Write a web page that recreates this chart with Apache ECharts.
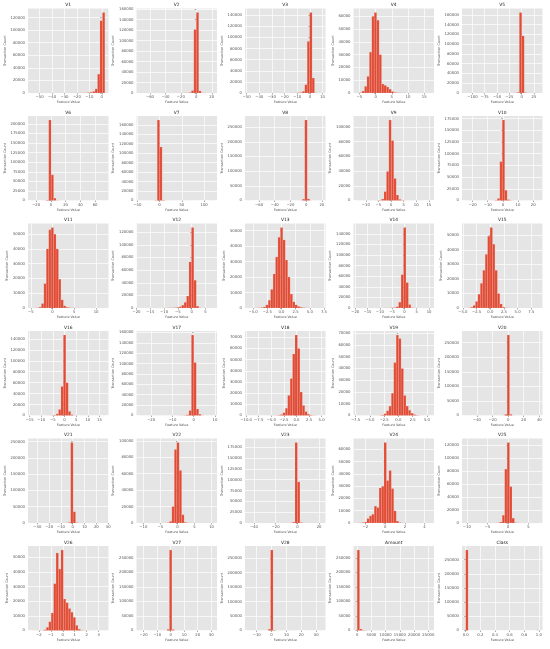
<!DOCTYPE html>
<html><head><meta charset="utf-8">
<script src="https://cdn.jsdelivr.net/npm/echarts@6/dist/echarts.min.js"></script>
<style>html,body{margin:0;padding:0;background:#fff}#c{width:550px;height:649px}</style>
</head><body><div id="c"></div><script>
const featureNames = ['V1','V2','V3','V4','V5','V6','V7','V8','V9','V10','V11','V12','V13','V14','V15','V16','V17','V18','V19','V20','V21','V22','V23','V24','V25','V26','V27','V28','Amount','Class'];
const featureMin = [-56.4075,-72.7157,-48.3256,-5.6832,-113.7433,-26.1605,-43.5572,-73.2167,-13.4341,-24.5883,-4.7975,-18.6837,-5.7919,-19.2143,-4.4989,-14.1299,-25.1628,-9.4987,-7.2135,-54.4977,-34.8304,-10.9331,-44.8077,-2.8366,-10.2954,-2.6047,-22.5657,-15.4301,0,0];
const featureMax = [2.4549,22.0577,9.3826,16.8753,34.8017,73.3016,120.5895,20.0072,15.5950,23.7451,12.0189,7.8484,7.1269,10.5268,8.8777,17.3151,9.2535,5.0411,5.5920,39.4209,27.2028,10.5031,22.5284,4.5845,7.5196,3.5174,31.6122,33.8478,25691.16,1];

const countsV1 = [1,0,1,2,3,4,5,6,8,10,12,14,17,20,25,30,40,50,65,100,150,200,300,600,1200,2500,6500,30000,115000,128000];
const countsV2 = [1,0,1,0,1,1,1,2,2,3,4,5,8,10,15,25,40,80,150,300,800,4500,121000,153500,4000,300,80,30,10,2];
const countsV3 = [1,0,1,1,2,2,3,4,5,6,8,10,12,15,20,25,35,60,100,200,400,900,3000,15000,93000,145000,27000,200,5,1];
const countsV4 = [30,300,1500,5200,13000,32000,60000,63000,57000,30000,7000,6000,4700,3000,1200,400,200,100,60,30,20,10,8,5,3,2,1,1,0,1];
const countsV5 = [1,0,0,0,0,0,0,1,0,1,1,1,2,3,5,8,10,20,40,80,200,1200,165000,117000,800,150,50,15,4,2];
const countsV6 = [1,2,5,10,30,100,1200,210000,67000,6000,400,150,60,30,20,10,8,5,4,3,2,2,1,1,1,0,0,0,0,1];
const countsV7 = [1,1,3,8,20,80,600,170000,113000,800,150,50,20,10,6,4,3,2,1,1,1,0,1,0,0,0,0,0,0,1];
const countsV8 = [1,0,0,0,1,1,1,1,1,2,2,3,4,5,6,8,10,15,20,40,100,300,4500,274000,5500,300,60,20,8,3];
const countsV9 = [1,1,2,4,8,15,30,60,150,500,2000,12000,39500,109500,81500,30000,7500,1500,300,120,50,20,10,6,3,2,1,0,0,1];
const countsV10 = [1,2,3,4,6,10,15,25,40,60,100,200,800,4500,83000,172000,22000,1800,400,120,50,20,10,5,3,2,1,1,0,1];
const countsV11 = [10,40,150,600,3000,16500,40000,53000,54500,50000,40000,19500,5500,1500,500,200,100,60,40,25,15,10,8,5,3,2,1,1,0,1];
const countsV12 = [1,1,2,3,5,8,12,20,30,50,80,120,200,300,500,1000,2000,4500,9000,19000,73000,127500,44000,3000,300,50,10,3,1,1];
const countsV13 = [5,10,20,50,120,300,700,2000,5000,12000,22000,33000,45700,52000,44000,31000,20000,9000,4000,2000,1000,500,200,100,50,20,10,5,2,1];
const countsV14 = [1,2,3,5,8,10,15,20,30,40,50,80,120,200,350,800,2500,11000,63000,152000,48000,6500,500,150,60,30,15,8,3,1];
const countsV15 = [20,100,500,1800,4500,9500,17000,26000,37000,49500,55500,44000,26000,10000,2800,600,150,50,20,10,6,4,3,2,1,1,0,0,0,1];
const countsV16 = [2,3,6,10,20,40,80,150,300,800,3000,11000,53000,147000,60000,7500,1500,300,100,50,25,15,10,6,4,2,1,1,0,1];
const countsV17 = [1,2,3,4,5,8,10,15,20,25,30,40,50,60,80,100,150,250,500,1500,9500,155000,102000,12500,2500,300,60,15,5,1];
const countsV18 = [2,3,5,8,12,15,20,25,30,40,80,150,350,900,2500,6500,18000,33000,55000,72000,60000,21000,9000,3500,1200,400,150,60,20,10];
const countsV19 = [2,3,5,8,12,18,25,40,70,150,500,1500,4000,8000,19000,45000,68500,65500,40000,17000,8000,4500,2000,800,300,100,40,15,5,2];
const countsV20 = [1,0,0,0,1,1,1,2,2,3,5,8,15,30,80,300,4000,276000,4000,300,80,30,15,8,5,3,2,1,1,1];
const countsV21 = [1,0,0,0,1,0,1,1,2,3,5,10,25,60,200,1800,247000,34500,900,200,60,20,8,4,2,1,1,0,0,1];
const countsV22 = [1,0,1,1,2,3,5,8,15,30,80,300,2000,20000,89500,98000,64000,10000,800,200,60,20,8,4,2,1,1,1,0,1];
const countsV23 = [1,0,0,0,0,1,0,1,1,1,2,3,5,8,12,25,60,200,2000,186000,95000,1200,200,60,20,8,4,2,1,1];
const countsV24 = [20,100,300,800,3600,5800,7100,13700,12600,28500,29900,65500,34500,42700,28000,9900,1600,300,100,40,20,10,8,5,3,2,1,1,0,1];
const countsV25 = [1,0,0,1,1,2,3,4,6,10,20,40,100,300,1500,12000,83000,124000,56000,7500,500,120,40,15,8,4,2,1,1,1];
const countsV26 = [10,20,40,80,100,500,2200,6000,12000,32000,53000,42000,55000,21500,19000,15000,12500,9000,3500,900,200,100,50,30,20,12,8,5,3,2];
const countsV27 = [1,0,0,1,1,2,3,5,10,40,200,4000,277000,3300,200,40,10,5,3,2,1,1,0,0,0,0,0,0,0,1];
const countsV28 = [1,0,1,2,4,10,40,200,4500,278000,1800,200,40,10,5,3,2,1,1,1,0,0,0,0,0,0,0,0,0,1];
const countsAmount = [277500,5000,1200,500,250,150,80,40,25,15,10,8,5,4,3,2,2,1,1,1,1,0,0,0,0,0,0,0,0,1];
const countsClass = [284315,0,0,0,0,0,0,0,0,0,0,0,0,0,0,0,0,0,0,0,0,0,0,0,0,0,0,0,0,492];

const binCounts = [countsV1,countsV2,countsV3,countsV4,countsV5,countsV6,countsV7,countsV8,countsV9,countsV10,
  countsV11,countsV12,countsV13,countsV14,countsV15,countsV16,countsV17,countsV18,countsV19,countsV20,
  countsV21,countsV22,countsV23,countsV24,countsV25,countsV26,countsV27,countsV28,countsAmount,countsClass];

const xTickLabels = [
  ['-50','-40','-30','-20','-10','0'],
  ['-60','-40','-20','0','20'],
  ['-50','-40','-30','-20','-10','0','10'],
  ['-5','0','5','10','15'],
  ['-100','-75','-50','-25','0','25'],
  ['-20','0','20','40','60'],
  ['-50','0','50','100'],
  ['-60','-40','-20','0','20'],
  ['-10','-5','0','5','10','15'],
  ['-20','-10','0','10','20'],
  ['-5','0','5','10'],
  ['-20','-15','-10','-5','0','5'],
  ['-5.0','-2.5','0.0','2.5','5.0','7.5'],
  ['-20','-15','-10','-5','0','5','10'],
  ['-5.0','-2.5','0.0','2.5','5.0','7.5'],
  ['-15','-10','-5','0','5','10','15'],
  ['-20','-10','0','10'],
  ['-10.0','-7.5','-5.0','-2.5','0.0','2.5','5.0'],
  ['-7.5','-5.0','-2.5','0.0','2.5','5.0'],
  ['-40','-20','0','20','40'],
  ['-30','-20','-10','0','10','20','30'],
  ['-10','-5','0','5','10'],
  ['-40','-20','0','20'],
  ['-2','0','2','4'],
  ['-10','-5','0','5'],
  ['-2','-1','0','1','2','3'],
  ['-20','-10','0','10','20','30'],
  ['-10','0','10','20','30'],
  ['0','5000','10000','15000','20000','25000'],
  ['0.0','0.2','0.4','0.6','0.8','1.0']
];
const yTickStep = [20000,20000,20000,10000,20000,25000,20000,50000,20000,25000,
  10000,20000,10000,20000,10000,20000,20000,10000,10000,50000,
  50000,20000,25000,10000,20000,10000,50000,50000,50000,50000];

const FONT = 'DejaVu Sans';
const option = {animation:false, backgroundColor:'#ffffff', grid:[], xAxis:[], yAxis:[], series:[], graphic:[]};
const plotW = 80.5, plotH = 84.5;

featureNames.forEach((name, i) => {
  const r = Math.floor(i / 5), c = i % 5;
  const left = 28 + 108.5 * c, top = 8.5 + 107.5 * r;
  const lo = featureMin[i], hi = featureMax[i], span = hi - lo;
  const counts = binCounts[i];
  const w = span / counts.length;
  const yMax = Math.max(...counts) * 1.05;
  const yTicks = [];
  for (let v = 0; v <= yMax; v += yTickStep[i]) yTicks.push(v);
  const xLabels = xTickLabels[i];
  const xTicks = xLabels.map(Number);
  const maxLabelLen = String(yTicks[yTicks.length - 1]).length;

  option.grid.push({left: left, top: top, width: plotW, height: plotH, show: true,
    backgroundColor: '#E5E5E5', borderWidth: 0, containLabel: false});

  option.xAxis.push({type: 'value', gridIndex: i, min: lo - 0.05 * span, max: hi + 0.05 * span,
    axisLine: {show: false},
    axisTick: {show: true, length: 1.5, customValues: xTicks, lineStyle: {color: '#555555', width: 0.5}},
    axisLabel: {customValues: xTicks, margin: 2.5, fontSize: 3.8, fontFamily: FONT, color: '#555555',
      formatter: v => { const k = xTicks.indexOf(v); return (k >= 0 ? xLabels[k] : String(v)).replace('-', '\u2212'); }},
    splitLine: {show: true, lineStyle: {color: '#ffffff', width: 0.7}},
    name: 'Feature Value', nameLocation: 'middle', nameGap: 7.8,
    nameTextStyle: {fontSize: 3.4, fontFamily: FONT, color: '#555555'}
  });

  option.yAxis.push({type: 'value', gridIndex: i, min: 0, max: yMax,
    axisLine: {show: false},
    axisTick: {show: true, length: 1.5, customValues: yTicks, lineStyle: {color: '#555555', width: 0.5}},
    axisLabel: {customValues: yTicks, margin: 3, fontSize: 3.8, fontFamily: FONT, color: '#555555',
      formatter: v => String(Math.round(v))},
    splitLine: {show: true, lineStyle: {color: '#ffffff', width: 0.7}},
    name: 'Transaction Count', nameLocation: 'middle', nameGap: 3 + maxLabelLen * 2.42 + 2.2,
    nameTextStyle: {fontSize: 3.4, fontFamily: FONT, color: '#555555'}
  });

  const data = counts.map((cnt, k) => [lo + k * w, lo + (k + 1) * w, cnt]).filter(d => d[2] > 0);
  option.series.push({type: 'custom', xAxisIndex: i, yAxisIndex: i, data: data,
    encode: {x: [0, 1], y: 2},
    renderItem: (params, api) => {
      const p0 = api.coord([api.value(0), api.value(2)]);
      const p1 = api.coord([api.value(1), 0]);
      return {type: 'rect', shape: {x: p0[0], y: p0[1], width: p1[0] - p0[0], height: p1[1] - p0[1]},
        style: {fill: '#E24A33', stroke: 'rgba(238,238,238,0.6)', lineWidth: 0.25}};
    }
  });

  option.graphic.push({type: 'text', x: left + plotW / 2, y: top - 3.6,
    style: {text: name, align: 'center', verticalAlign: 'middle', fill: '#222222',
      font: '4.4px "' + FONT + '"'}});
});

const chart = echarts.init(document.getElementById('c'), null, {renderer: 'canvas'});
chart.setOption(option);
</script></body></html>
